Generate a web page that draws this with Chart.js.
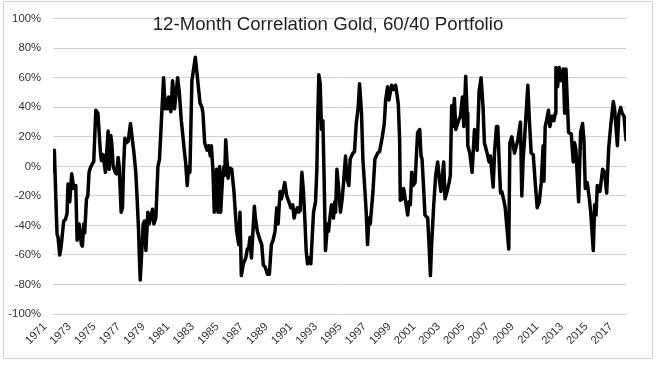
<!DOCTYPE html>
<html>
<head>
<meta charset="utf-8">
<title>12-Month Correlation Gold, 60/40 Portfolio</title>
<script src="https://cdn.jsdelivr.net/npm/chart.js@4/dist/chart.umd.min.js"></script>
<style>
  html, body { margin: 0; padding: 0; background: #fff; }
  canvas { display: block; }
</style>
</head>
<body>
<canvas id="corrChart" width="657" height="365"></canvas>
<script>
const chartTitle = '12-Month Correlation Gold, 60/40 Portfolio';

// position of each reading, in decimal years
const yearPos = [
  1971.00, 1971.11, 1971.27, 1971.33, 1971.41, 1971.55, 1971.68, 1971.76, 1971.87, 1972.01,
  1972.14, 1972.22, 1972.36, 1972.52, 1972.69, 1972.85, 1972.96, 1973.12, 1973.31, 1973.39,
  1973.50, 1973.58, 1973.72, 1973.83, 1973.93, 1974.04, 1974.21, 1974.31, 1974.48, 1974.65,
  1974.86, 1974.94, 1975.07, 1975.26, 1975.48, 1975.56, 1975.70, 1975.78, 1975.89, 1976.05,
  1976.16, 1976.30, 1976.38, 1976.54, 1976.65, 1976.73, 1976.84, 1976.97, 1977.11, 1977.30,
  1977.45, 1977.57, 1977.73, 1977.84, 1977.95, 1978.01, 1978.09, 1978.22, 1978.33, 1978.44,
  1978.55, 1978.71, 1978.82, 1979.09, 1979.20, 1979.36, 1979.53, 1979.66, 1979.80, 1979.99,
  1980.12, 1980.23, 1980.31, 1980.39, 1980.58, 1980.72, 1980.83, 1980.88, 1981.13, 1981.26,
  1981.43, 1981.53, 1981.67, 1981.78, 1981.91, 1982.02, 1982.13, 1982.29, 1982.57, 1982.73,
  1982.95, 1983.11, 1983.19, 1983.33, 1983.52, 1983.65, 1983.79, 1983.87, 1984.00, 1984.11,
  1984.30, 1984.41, 1984.55, 1984.63, 1984.79, 1984.90, 1984.96, 1985.04, 1985.23, 1985.33,
  1985.53, 1985.71, 1985.82, 1985.93, 1986.10, 1986.20, 1986.31, 1986.47, 1986.67, 1986.80,
  1986.91, 1987.02, 1987.13, 1987.29, 1987.37, 1987.45, 1987.61, 1987.83, 1987.97, 1988.10,
  1988.24, 1988.43, 1988.59, 1988.75, 1988.89, 1989.05, 1989.19, 1989.30, 1989.46, 1989.57,
  1989.84, 1990.00, 1990.22, 1990.33, 1990.49, 1990.60, 1990.71, 1990.87, 1990.98, 1991.09,
  1991.23, 1991.36, 1991.47, 1991.58, 1991.69, 1991.80, 1991.96, 1992.04, 1992.18, 1992.34,
  1992.45, 1992.53, 1992.61, 1992.72, 1992.83, 1992.94, 1993.04, 1993.15, 1993.32, 1993.40,
  1993.48, 1993.64, 1993.80, 1993.91, 1993.97, 1994.08, 1994.18, 1994.37, 1994.51, 1994.62,
  1994.78, 1994.89, 1995.05, 1995.16, 1995.38, 1995.51, 1995.65, 1995.81, 1995.92, 1996.08,
  1996.19, 1996.36, 1996.46, 1996.57, 1996.68, 1996.79, 1997.01, 1997.17, 1997.39, 1997.55,
  1997.77, 1997.93, 1998.04, 1998.20, 1998.31, 1998.53, 1998.69, 1998.85, 1998.96, 1999.07,
  1999.18, 1999.23, 1999.40, 1999.50, 1999.67, 1999.83, 1999.94, 2000.05, 2000.16, 2000.27,
  2000.43, 2000.64, 2000.81, 2000.92, 2001.00, 2001.13, 2001.24, 2001.46, 2001.57, 2001.68,
  2001.78, 2001.95, 2002.11, 2002.27, 2002.44, 2002.54, 2002.76, 2002.87, 2003.03, 2003.20,
  2003.30, 2003.41, 2003.47, 2003.63, 2003.74, 2003.96, 2004.12, 2004.28, 2004.39, 2004.55,
  2004.66, 2004.72, 2004.88, 2005.07, 2005.26, 2005.48, 2005.64, 2005.80, 2005.96, 2006.07,
  2006.29, 2006.45, 2006.56, 2006.78, 2006.89, 2007.05, 2007.16, 2007.27, 2007.38, 2007.48,
  2007.65, 2007.76, 2008.05, 2008.14, 2008.30, 2008.52, 2008.79, 2009.00, 2009.11, 2009.22,
  2009.33, 2009.60, 2009.71, 2009.87, 2010.04, 2010.20, 2010.36, 2010.53, 2010.69, 2010.84,
  2010.91, 2011.01, 2011.12, 2011.28, 2011.39, 2011.56, 2011.72, 2011.83, 2011.88, 2012.02,
  2012.15, 2012.32, 2012.48, 2012.59, 2012.70, 2012.91, 2013.13, 2013.29, 2013.40, 2013.51,
  2013.73, 2013.89, 2014.05, 2014.16, 2014.27, 2014.43, 2014.60, 2014.71, 2014.92, 2015.03,
  2015.14, 2015.25, 2015.46, 2015.68, 2015.84, 2016.01, 2016.17, 2016.33, 2016.55, 2016.66,
  2016.88, 2016.99, 2017.15, 2017.26, 2017.42, 2017.58
];

// correlation in percent, one per position above
const corrPct = [
  -3, 11, -32, -46, -48, -60, -53, -46, -37, -36,
  -32, -12, -24, -5, -15, -13, -50, -39, -53, -54,
  -39, -45, -22, -20, -4, -1, 2, 3, 38, 36,
  9, 4, 8, -4, 24, -2, 21, 15, 0, -4,
  -5, 6, 0, -31, -28, -2, 19, 16, 17, 29,
  18, 10, -4, -22, -42, -59, -77, -57, -39, -37,
  -57, -31, -39, -29, -39, -35, 0, 5, 29, 60,
  39, 45, 39, 47, 37, 58, 47, 39, 60, 51,
  31, 23, 11, 3, -13, 0, -4, 58, 74, 61,
  43, 40, 36, 16, 11, 14, 7, 14, -2, -31,
  -2, -31, 0, -31, -7, 0, -6, 18, -8, -1,
  -2, -17, -31, -44, -53, -31, -74, -66, -62, -56,
  -55, -48, -62, -39, -27, -35, -44, -50, -53, -67,
  -68, -73, -73, -53, -50, -44, -28, -39, -17, -22,
  -11, -20, -25, -28, -26, -35, -31, -28, -31, -30,
  -4, -17, -35, -57, -66, -62, -66, -53, -31, -24,
  -2, 36, 62, 56, 25, 31, -8, -57, -39, -44,
  -37, -26, -35, -24, -31, -2, -11, -31, -22, -11,
  7, -8, -13, 5, 9, 10, 29, 40, 56, 36,
  5, -17, -31, -53, -35, -39, -17, 5, 9, 10,
  20, 29, 45, 54, 45, 55, 52, 55, 49, 42,
  18, -23, -22, -15, -24, -33, -24, -26, -4, -13,
  -11, 23, 25, 7, 5, -15, -33, -35, -53, -74,
  -53, -26, -6, 3, -11, -17, 3, -22, -17, -11,
  -6, 41, 27, 46, 25, 31, 34, 47, 27, 61,
  36, 14, 9, -4, 25, 11, 51, 60, 40, 16,
  9, 3, 7, -14, 9, 27, 27, 3, -18, -17,
  -23, -28, -56, 16, 20, 9, 18, 30, -20, 5,
  18, 55, 34, 9, 8, -11, -28, -24, -11, 14,
  -10, 27, 31, 38, 27, 34, 31, 36, 67, 54,
  67, 58, 66, 36, 66, 23, 22, 3, 16, 11,
  -24, 23, 29, 18, -15, -11, -22, -31, -57, -26,
  -33, -13, -17, -2, -4, -18, 12, 27, 44, 38,
  14, 35, 40, 36, 34, 18
];

const tickYears = [1971, 1973, 1975, 1977, 1979, 1981, 1983, 1985, 1987, 1989, 1991, 1993,
  1995, 1997, 1999, 2001, 2003, 2005, 2007, 2009, 2011, 2013, 2015, 2017];
const yTicks = [-100, -80, -60, -40, -20, 0, 20, 40, 60, 80, 100];

Chart.defaults.font.family = "'Liberation Sans', Arial, sans-serif";

// white page, thin grey frame, title laid over the plot like the original
const framePlugin = {
  id: 'frame',
  beforeDraw(chart) {
    const ctx = chart.ctx;
    ctx.save();
    ctx.fillStyle = '#fff';
    ctx.fillRect(0, 0, chart.width, chart.height);
    ctx.strokeStyle = '#d0d0d0';
    ctx.lineWidth = 1;
    ctx.strokeRect(3.5, 1.5, 649, 357);
    ctx.restore();
  },
  afterDraw(chart) {
    const ctx = chart.ctx;
    ctx.save();
    ctx.font = "18.67px 'Liberation Sans', Arial, sans-serif";
    ctx.fillStyle = '#1f1f1f';
    ctx.textAlign = 'center';
    ctx.textBaseline = 'alphabetic';
    ctx.fillText(chartTitle, 328, 30);
    ctx.restore();
  }
};

new Chart(document.getElementById('corrChart'), {
  type: 'line',
  data: {
    datasets: [{
      data: yearPos.map((x, i) => ({ x: x, y: corrPct[i] })),
      borderColor: '#000',
      borderWidth: 3.5,
      pointRadius: 0,
      tension: 0,
      fill: false,
      borderJoinStyle: 'round',
      borderCapStyle: 'round'
    }]
  },
  options: {
    responsive: false,
    animation: false,
    devicePixelRatio: 1,
    layout: { padding: { top: 13, right: 31, left: 0, bottom: 0 } },
    plugins: {
      legend: { display: false },
      title: { display: false },
      tooltip: { enabled: false }
    },
    scales: {
      x: {
        type: 'linear',
        min: 1971,
        max: 2017.58,
        grid: { display: false, drawTicks: false },
        border: { display: false },
        afterBuildTicks: s => { s.ticks = tickYears.map(v => ({ value: v })); },
        afterFit: s => { s.height = 51; },
        ticks: {
          autoSkip: false,
          minRotation: 45,
          maxRotation: 45,
          padding: 6,
          labelOffset: -8,
          color: '#333',
          font: { size: 11.3 },
          callback: v => String(v)
        }
      },
      y: {
        min: -100,
        max: 100,
        afterBuildTicks: s => { s.ticks = yTicks.map(v => ({ value: v })); },
        afterFit: s => { s.width = 53; },
        grid: { color: '#d0d0d0', lineWidth: 1, drawTicks: false },
        border: { display: false },
        ticks: {
          padding: 12,
          color: '#333',
          font: { size: 11.3 },
          callback: v => v + '%'
        }
      }
    }
  },
  plugins: [framePlugin]
});
</script>
</body>
</html>
